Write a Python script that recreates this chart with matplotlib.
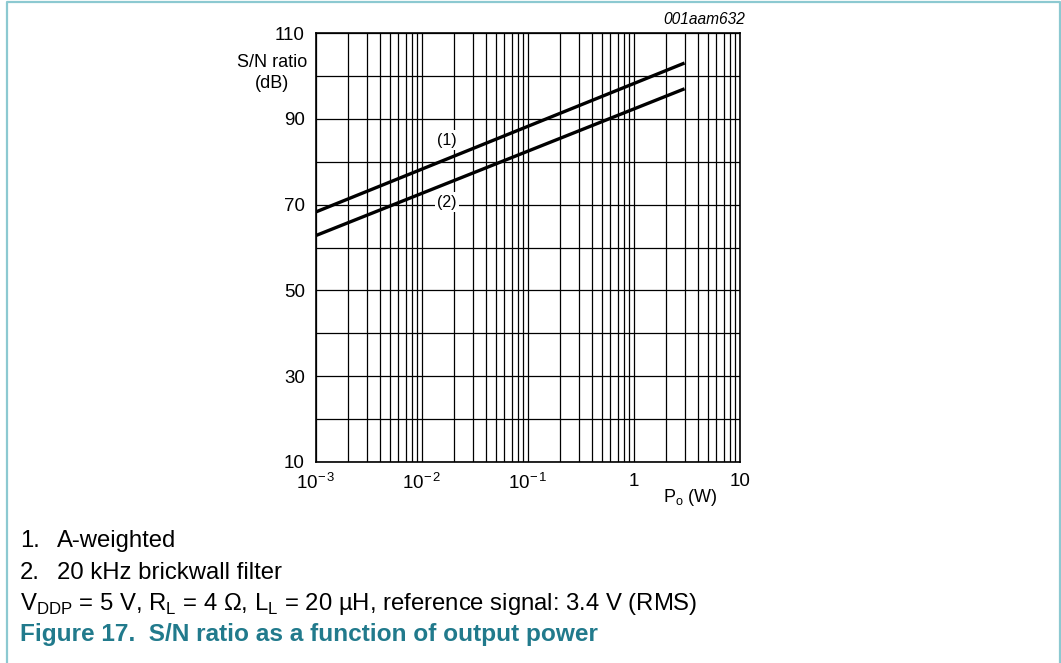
import matplotlib.pyplot as plt
import numpy as np
from matplotlib.lines import Line2D
from matplotlib.ticker import FixedLocator, NullFormatter

plt.rcParams['font.family'] = ['Liberation Sans', 'DejaVu Sans']
plt.rcParams['mathtext.fontset'] = 'custom'
plt.rcParams['mathtext.rm'] = 'Liberation Sans'

# data
p_out = [1e-3, 3.0]
snr_a_weighted = [68.3, 103.0]
snr_brickwall = [62.8, 97.0]
y_ticks = [10, 30, 50, 70, 90, 110]
x_ticks = [1e-3, 1e-2, 1e-1, 1, 10]
x_labels = [r'$\mathregular{10^{-\,3}}$', r'$\mathregular{10^{-\,2}}$',
            r'$\mathregular{10^{-\,1}}$', '1', '10']

W, H = 1061, 663
fig = plt.figure(figsize=(W / 100, H / 100), dpi=100)
ax = fig.add_axes([316 / W, 1 - 462 / H, 424 / W, 429 / H])

ax.set_xscale('log')
ax.set_xlim(1e-3, 10)
ax.set_ylim(10, 110)

# grid: every 1..9 per decade, every 10 dB
minor_x = [m * 10.0 ** e for e in range(-3, 1) for m in range(2, 10)]
ax.xaxis.set_minor_locator(FixedLocator(minor_x))
ax.xaxis.set_minor_formatter(NullFormatter())
ax.set_xticks(x_ticks)
ax.set_xticklabels(x_labels)
ax.set_yticks(y_ticks)
ax.set_yticks(np.arange(20, 110, 20), minor=True)
ax.grid(True, which='both', axis='both', color='black', linewidth=0.9)
ax.set_axisbelow(True)
ax.tick_params(which='both', length=0, labelsize=13.5)
ax.tick_params(axis='y', pad=8)
ax.tick_params(axis='x', pad=8)
for s in ax.spines.values():
    s.set_linewidth(1.2)

ax.plot(p_out, snr_a_weighted, color='black', linewidth=2.4, solid_capstyle='butt')
ax.plot(p_out, snr_brickwall, color='black', linewidth=2.4, solid_capstyle='butt')

box = dict(facecolor='white', edgecolor='none', pad=2)
ax.text(0.0172, 85.0, '(1)', fontsize=11.5, ha='center', va='center', bbox=box)
ax.text(0.0172, 70.6, '(2)', fontsize=11.5, ha='center', va='center', bbox=box)

fig.text(272 / W, 1 - 73 / H, 'S/N ratio\n(dB)', fontsize=13, ha='center',
         va='center', linespacing=1.25)
fig.text(690 / W, 1 - 498 / H, r'P$_\mathregular{o}$ (W)', fontsize=13,
         ha='center', va='center')
fig.text(745 / W, 1 - 20 / H, '001aam632', fontsize=11.2, style='italic',
         ha='right', va='center')

# notes under the chart
note_fs = 17.2
fig.text(20 / W, 1 - 541 / H, '1.', fontsize=note_fs, va='center')
fig.text(57 / W, 1 - 541 / H, 'A-weighted', fontsize=note_fs, va='center')
fig.text(20 / W, 1 - 573 / H, '2.', fontsize=note_fs, va='center')
fig.text(57 / W, 1 - 573 / H, '20 kHz brickwall filter', fontsize=note_fs, va='center')
fig.text(20 / W, 1 - 604 / H,
         r'V$_\mathregular{DDP}$ = 5 V, R$_\mathregular{L}$ = 4 Ω, '
         r'L$_\mathregular{L}$ = 20 µH, reference signal: 3.4 V (RMS)',
         fontsize=note_fs, va='center')
fig.text(20 / W, 1 - 634 / H, 'Figure 17.  S/N ratio as a function of output power',
         fontsize=17.6, fontweight='bold', color='#217a8c', va='center')

# frame around the figure
frame = '#8cc9d1'
fig.add_artist(Line2D([7 / W, 7 / W, 1060 / W, 1060 / W], [0, 1 - 2 / H, 1 - 2 / H, 0],
                      transform=fig.transFigure, color=frame, linewidth=1.6))

fig.savefig('out.png', dpi=100)
